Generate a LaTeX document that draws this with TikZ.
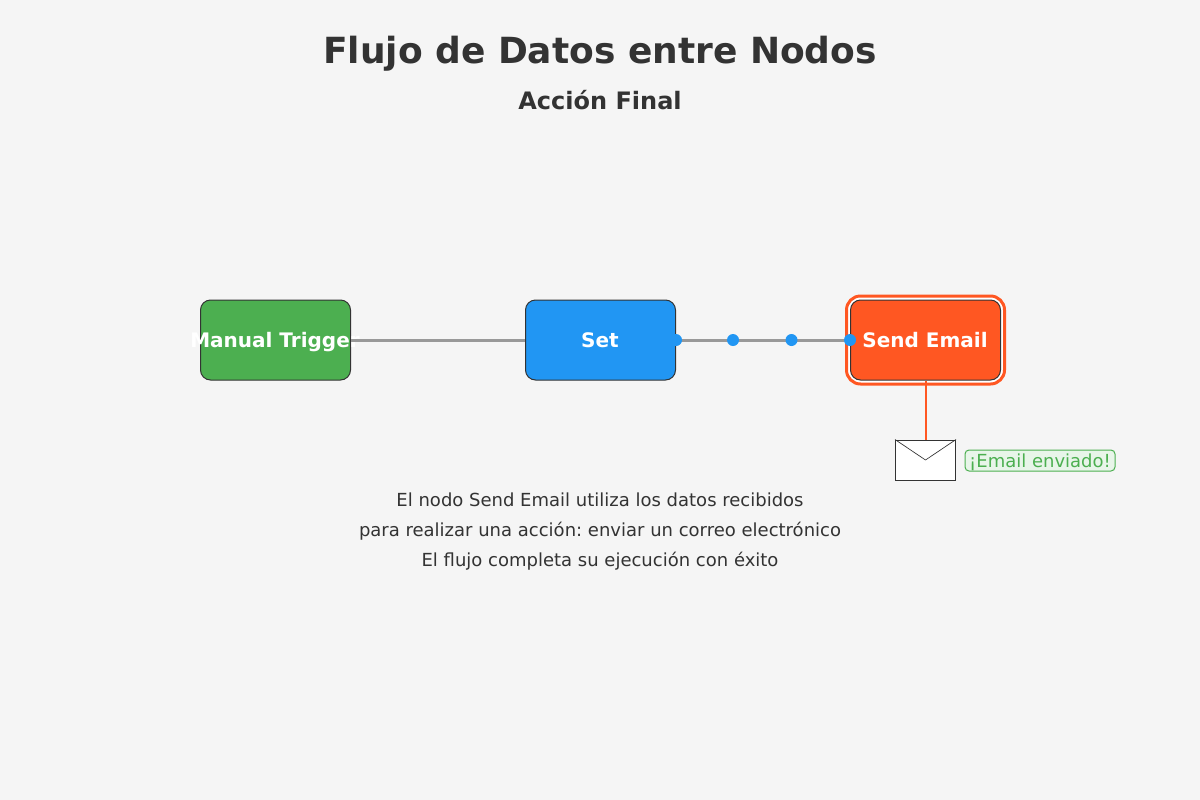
\documentclass[tikz,border=0pt]{standalone}
\usepackage{fontspec}
\setmainfont{DejaVu Sans}
\frenchspacing
\definecolor{bgc}{HTML}{F5F5F5}
\definecolor{ink}{HTML}{333333}
\definecolor{gr}{HTML}{4CAF50}
\definecolor{bl}{HTML}{2196F3}
\definecolor{og}{HTML}{FF5722}
\definecolor{lineg}{HTML}{999999}
\definecolor{pale}{HTML}{E8F5E9}
\newcommand{\boxtext}[1]{\makebox[0pt][c]{#1\hspace{0.75pt}}}
\tikzset{
  x=0.75pt,y=-0.75pt,
  flowbox/.style={draw=ink,line width=0.75pt,rounded corners=7.5pt,minimum width=112.5pt,minimum height=60pt,inner sep=0pt,text=white,text height=10.9pt,text depth=0pt,font=\bfseries\fontsize{15}{18}\selectfont},
  halo/.style={draw=og,fill=white,line width=2.25pt,rounded corners=10.5pt,minimum width=118.5pt,minimum height=66pt,inner sep=0pt},
  dot/.style={circle,fill=bl,minimum size=9pt,inner sep=0pt},
  wire/.style={draw=lineg,line width=2.25pt},
  mailwire/.style={draw=og,line width=1.5pt},
  envelope/.style={draw=ink,fill=white,line width=0.75pt,minimum width=45pt,minimum height=30pt,inner sep=0pt},
  badge/.style={draw=gr,fill=pale,line width=0.75pt,rounded corners=3pt,minimum width=112.5pt,minimum height=15.75pt,inner sep=0pt,text=gr,text height=9.85pt,text depth=0pt,font=\fontsize{13.5}{16}\selectfont},
  caption/.style={text=ink,anchor=base,inner sep=0pt,font=\fontsize{13.5}{16}\selectfont},
}
\begin{document}
\begin{tikzpicture}
\useasboundingbox[fill=bgc] (0,0) rectangle (1200,800);
\node[anchor=base,inner sep=0pt,text=ink,font=\bfseries\fontsize{27}{32}\selectfont] (title) at (600,63) {Flujo de Datos entre Nodos};
\node[anchor=base,inner sep=0pt,text=ink,font=\bfseries\fontsize{18}{22}\selectfont] (sub) at (600,109) {Acción Final};
\node[halo] (hl) at (925.5,340) {};
\node[flowbox,fill=gr] (trigger) at (275.5,340) {\boxtext{Manual Trigger}};
\node[flowbox,fill=bl] (set) at (600.5,340) {\boxtext{Set}};
\node[flowbox,fill=og] (send) at (925.5,340) {\boxtext{Send Email}};
\path[wire] (trigger) -- (set);
\path[wire] (set) -- (send);
\node[dot] (d1) at (set.east) {};
\node[dot] (d2) at (733,340) {};
\node[dot] (d3) at (791.5,340) {};
\node[dot] (d4) at (send.west) {};
\node[envelope] (mail) at (925.5,460) {};
\draw[mailwire] (send.south) -- (mail.north);
\draw[ink,line width=0.5pt] (mail.north west) -- (mail.center) -- (mail.north east);
\node[badge] (ok) at (1040,460.5) {¡Email enviado!};
\node[caption] (c1) at (600,506) {El nodo Send Email utiliza los datos recibidos};
\node[caption] (c2) at (600,536) {para realizar una acción: enviar un correo electrónico};
\node[caption] (c3) at (600,566) {El flujo completa su ejecución con éxito};
\end{tikzpicture}
\end{document}
